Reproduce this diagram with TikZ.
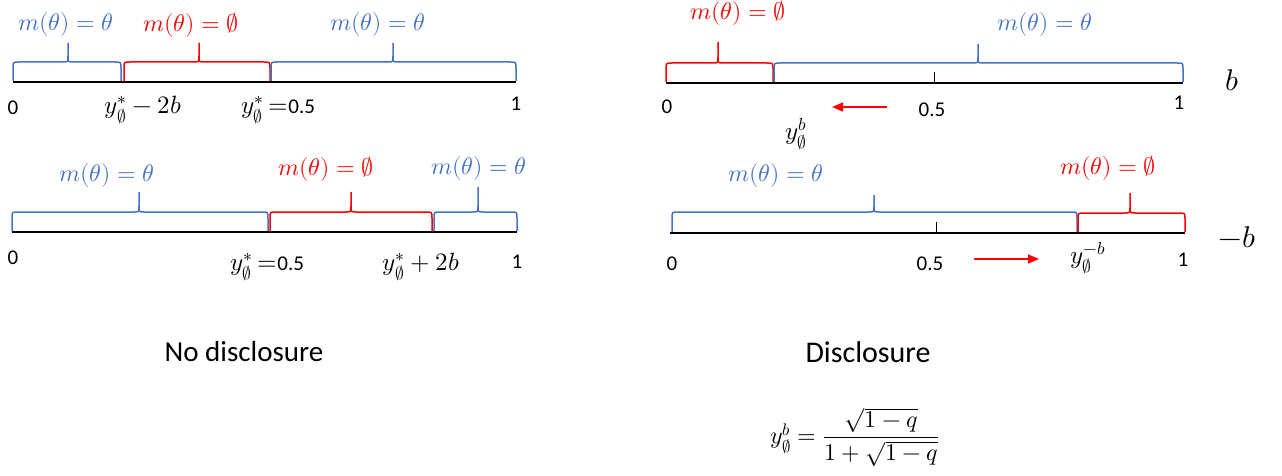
\documentclass[tikz,border=0pt]{standalone}
\usepackage{amsmath}
\usepackage{fontspec}
\usepackage{unicode-math}
\setmainfont{Carlito}
\setmathfont{Latin Modern Math}
\usetikzlibrary{arrows.meta, positioning}
\definecolor{mblue}{RGB}{68,114,196}
\definecolor{mred}{RGB}{255,0,0}
\newcommand{\numtxt}[1]{{\fontsize{21}{25}\selectfont #1}}
\tikzset{
  axisline/.style={line width=2.6pt, black},
  bracepath/.style={line width=1.5pt},
  mlabel/.style={font=\fontsize{24}{28}\selectfont, inner sep=0pt},
  ticklabel/.style={font=\fontsize{21}{25}\selectfont, inner sep=0pt},
  mathtick/.style={font=\fontsize{25}{29}\selectfont, inner sep=0pt},
  redarrow/.style={mred, line width=1.5pt, -{Triangle[length=11pt,width=9pt]}},
}

\begin{document}
\begin{tikzpicture}[x=1pt, y=-1pt]
\useasboundingbox (0,0) rectangle (1282,476);
% axes
\coordinate (ax1a) at (13,82);   \coordinate (ax1b) at (516,82);
\coordinate (ax2a) at (12,232);  \coordinate (ax2b) at (517,232);
\coordinate (ax3a) at (666,83);  \coordinate (ax3b) at (1183,83);
\coordinate (ax4a) at (670,233); \coordinate (ax4b) at (1185,233);
\foreach \p in {1,...,4} {
    \draw[axisline] (ax\p a) -- (ax\p b);
}
\draw[line width=1pt] (934,72) -- (934,83);
\draw[line width=1pt] (936,222) -- (936,233);
% braces
\foreach \xa/\xb/\xm/\yb/\yl/\yt/\col in {%
    13/121/68/81/62/43/mblue,
    124/270/199/81/62/43/mred,
    271/516/393/81/62/43/mblue,
    12/268/139/231/212/192/mblue,
    270/432/351/231/212/192/mred,
    434/517/478/231/212/187/mblue,
    666/773/718/82/63/42/mred,
    774/1183/978/82/63/44/mblue,
    672/1077/874/232/212/195/mblue,
    1078/1185/1130/232/213/193/mred%
} {
    \draw[bracepath, \col] (\xa,\yb) -- (\xa,\yl+6) .. controls (\xa,\yl) .. (\xa+6,\yl)
        -- (\xm-5,\yl) .. controls (\xm,\yl) .. (\xm,\yl-6) -- (\xm,\yt)
        -- (\xm,\yl-6) .. controls (\xm,\yl) .. (\xm+5,\yl)
        -- (\xb-6,\yl) .. controls (\xb,\yl) .. (\xb,\yl+6) -- (\xb,\yb);
}
% brace labels
\node[mlabel, text=mblue] (l1a) at (66,25)   {$m(\theta) = \theta$};
\node[mlabel, text=mred]  (l1b) at (191,25)  {$m(\theta) = \emptyset$};
\node[mlabel, text=mblue] (l1c) at (378,25)  {$m(\theta) = \theta$};
\node[mlabel, text=mblue] (l2a) at (107,175) {$m(\theta) = \theta$};
\node[mlabel, text=mred]  (l2b) at (326,169) {$m(\theta) = \emptyset$};
\node[mlabel, text=mblue] (l2c) at (479,169) {$m(\theta) = \theta$};
\node[mlabel, text=mred]  (l3a) at (738,13)  {$m(\theta) = \emptyset$};
\node[mlabel, text=mblue] (l3b) at (1045,25) {$m(\theta) = \theta$};
\node[mlabel, text=mblue] (l4a) at (776,175) {$m(\theta) = \theta$};
\node[mlabel, text=mred]  (l4b) at (1108,168) {$m(\theta) = \emptyset$};
% tick labels
\node[ticklabel] (t1a) at (13,108)  {0};
\node[mathtick]  (t1b) at (143,110) {$y^*_{\emptyset} - 2b$};
\node[mathtick]  (t1c) at (278,110) {$y^*_{\emptyset}$ $=$\numtxt{0.5}};
\node[ticklabel] (t1d) at (516,104) {1};
\node[ticklabel] (t2a) at (13,258)  {0};
\node[mathtick]  (t2b) at (267,267) {$y^*_{\emptyset}$ $=$\numtxt{0.5}};
\node[mathtick]  (t2c) at (421,267) {$y^*_{\emptyset} + 2b$};
\node[ticklabel] (t2d) at (517,262) {1};
\node[ticklabel] (t3a) at (667,107) {0};
\node[ticklabel] (t3b) at (932,110) {0.5};
\node[ticklabel] (t3c) at (1179,103) {1};
\node[mathtick]  (t3d) at (796,134) {$y^b_{\emptyset}$};
\node[ticklabel] (t4a) at (672,264) {0};
\node[ticklabel] (t4b) at (930,264) {0.5};
\node[ticklabel] (t4c) at (1183,260) {1};
\node[mathtick]  (t4d) at (1088,258) {$y_{\emptyset}^{-b}$};
% bias labels
\node[font=\fontsize{30}{36}\selectfont] (bpos) at (1232,80)  {$b$};
\node[font=\fontsize{30}{36}\selectfont] (bneg) at (1237,237) {$-b$};
% arrows
\coordinate (ar1s) at (887,107); \coordinate (ar1e) at (832,107);
\coordinate (ar2s) at (974,259); \coordinate (ar2e) at (1039,259);
\draw[redarrow] (ar1s) -- (ar1e);
\draw[redarrow] (ar2s) -- (ar2e);
% captions
\node[font=\fontsize{29}{35}\selectfont] (cap1) at (244,352) {No disclosure};
\node[font=\fontsize{30}{36}\selectfont] (cap2) at (868,352) {Disclosure};
\node[font=\fontsize{24}{29}\selectfont] (form) at (855,437)
    {$y^b_{\emptyset} = \dfrac{\sqrt{1-q}}{1+\sqrt{1-q}}$};
\end{tikzpicture}
\end{document}
